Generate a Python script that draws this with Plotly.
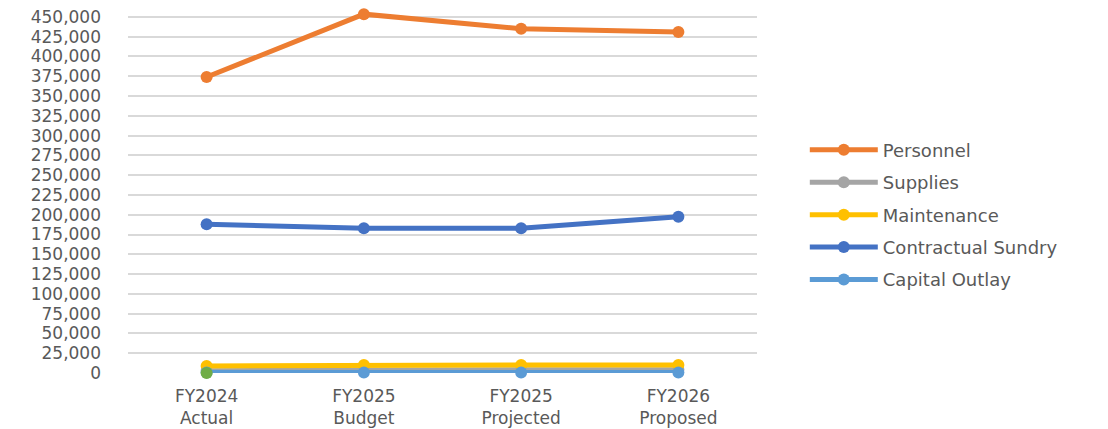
import plotly.graph_objects as go

# Budget categories (two-line tick labels)
categories = ["FY2024<br>Actual", "FY2025<br>Budget", "FY2025<br>Projected", "FY2026<br>Proposed"]

personnel = [374000, 453500, 435000, 431000]
supplies = [3000, 4000, 4000, 4000]
maintenance = [9000, 10000, 10000, 10000]
contractual_sundry = [188000, 183000, 183000, 197500]
capital_outlay = [500, 500, 500, 500]
other_first_year = [0]

series = [
    ("Personnel", personnel, "#ED7D31"),
    ("Supplies", supplies, "#A5A5A5"),
    ("Maintenance", maintenance, "#FFC000"),
    ("Contractual Sundry", contractual_sundry, "#4472C4"),
    ("Capital Outlay", capital_outlay, "#5B9BD5"),
]

y_ticks = list(range(0, 450001, 25000))

FONT = "DejaVu Sans"
TEXT = "#595959"
SIZE = 17

fig = go.Figure()
for name, values, color in series:
    fig.add_trace(go.Scatter(
        x=categories, y=values, name=name, legendgroup=name,
        mode="lines+markers", cliponaxis=False,
        line=dict(color=color, width=5),
        marker=dict(color=color, size=12),
    ))

# Single green point at the first year
fig.add_trace(go.Scatter(
    x=categories[:1], y=other_first_year, mode="markers", cliponaxis=False,
    marker=dict(color="#70AD47", size=12), showlegend=False,
))

fig.update_layout(
    width=1108, height=429,
    margin=dict(l=128, r=351, t=9, b=56),
    paper_bgcolor="white", plot_bgcolor="white",
    font=dict(family=FONT, size=SIZE, color=TEXT),
    showlegend=True,
    legend=dict(
        x=1.076, xanchor="left", y=0.435, yanchor="middle",
        font=dict(family=FONT, size=SIZE + 1, color=TEXT),
        itemwidth=68, tracegroupgap=6, bgcolor="rgba(0,0,0,0)",
        traceorder="grouped",
    ),
    xaxis=dict(
        showgrid=False, showline=False, zeroline=False, ticks="",
        tickfont=dict(family=FONT, size=SIZE, color=TEXT),
        range=[-0.5, 3.5], ticklabelstandoff=11, automargin=False,
    ),
    yaxis=dict(
        range=[0, 460000], tickvals=y_ticks,
        ticktext=[f"{v:,}" for v in y_ticks],
        showgrid=True, gridcolor="#D9D9D9", gridwidth=1.5,
        zeroline=False, showline=False, ticks="", ticklabelstandoff=26,
        tickfont=dict(family=FONT, size=SIZE, color=TEXT), automargin=False,
    ),
)

fig.write_html("out.html")
